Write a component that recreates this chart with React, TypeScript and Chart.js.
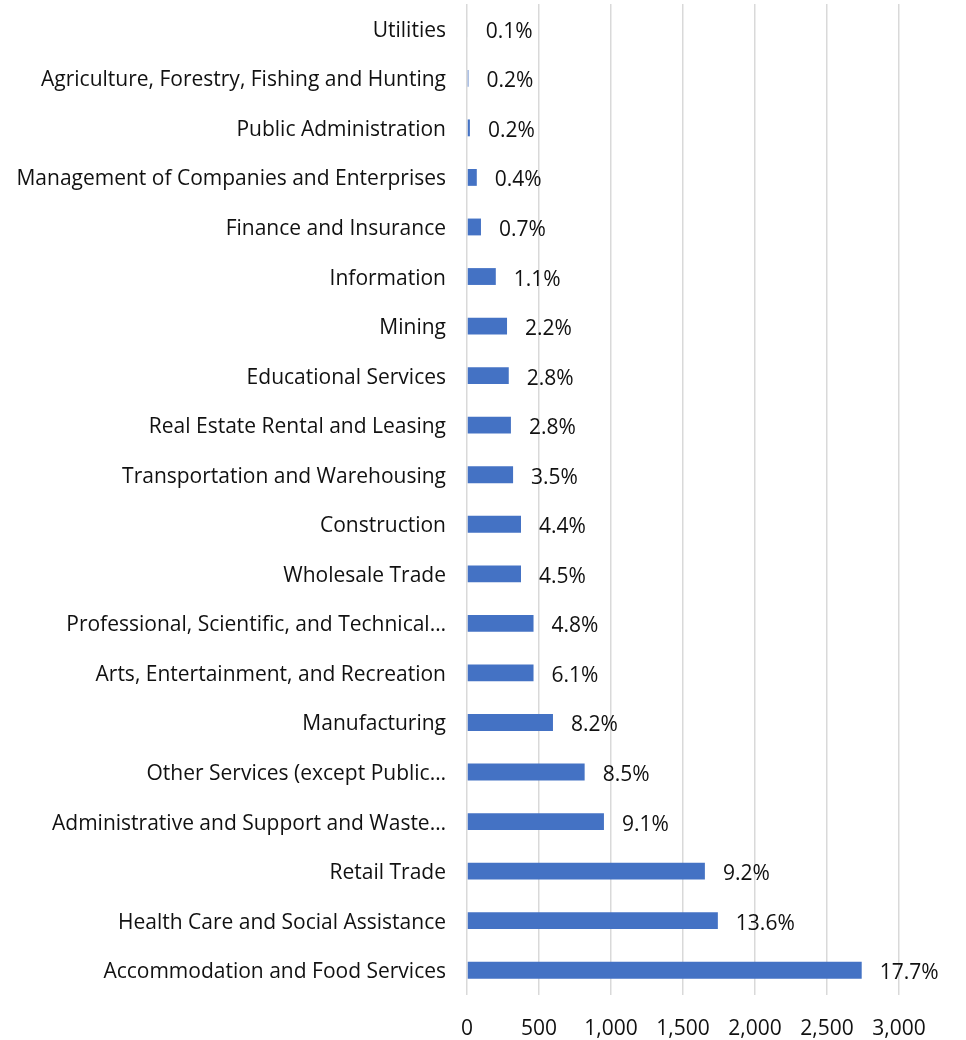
import React, { useEffect, useRef } from "react";
import { Chart, registerables } from "chart.js";

Chart.register(...registerables);

const categories = [
  "Utilities",
  "Agriculture, Forestry, Fishing and Hunting",
  "Public Administration",
  "Management of Companies and Enterprises",
  "Finance and Insurance",
  "Information",
  "Mining",
  "Educational Services",
  "Real Estate Rental and Leasing",
  "Transportation and Warehousing",
  "Construction",
  "Wholesale Trade",
  "Professional, Scientific, and Technical…",
  "Arts, Entertainment, and Recreation",
  "Manufacturing",
  "Other Services (except Public…",
  "Administrative and Support and Waste…",
  "Retail Trade",
  "Health Care and Social Assistance",
  "Accommodation and Food Services",
];

const values = [
  5, 10, 20, 68, 97, 200, 278, 290, 305, 320, 375, 375, 462, 462, 597, 817, 951, 1652, 1742, 2741,
];

const percentLabels = [
  "0.1%", "0.2%", "0.2%", "0.4%", "0.7%", "1.1%", "2.2%", "2.8%", "2.8%", "3.5%",
  "4.4%", "4.5%", "4.8%", "6.1%", "8.2%", "8.5%", "9.1%", "9.2%", "13.6%", "17.7%",
];

const xTicks = [0, 500, 1000, 1500, 2000, 2500, 3000];

const FONT = "'Open Sans', 'DejaVu Sans', sans-serif";
const FONT_SIZE = 21;

const barLabelPlugin = {
  id: "barLabels",
  afterDatasetsDraw(chart: any) {
    const ctx = chart.ctx;
    const meta = chart.getDatasetMeta(0);
    ctx.save();
    ctx.font = `${FONT_SIZE}px ${FONT}`;
    ctx.fillStyle = "#111111";
    ctx.textAlign = "left";
    ctx.textBaseline = "middle";
    meta.data.forEach((bar: any, i: number) => {
      ctx.fillText(percentLabels[i], bar.x + 18, bar.y + 3);
    });
    ctx.restore();
  },
};

export default function App() {
  const ref = useRef<HTMLCanvasElement>(null);
  useEffect(() => {
    if (!ref.current) return;
    const chart = new Chart(ref.current, {
      type: "bar",
      data: {
        labels: categories,
        datasets: [
          {
            data: values,
            backgroundColor: "#4472C4",
            borderWidth: 0,
            barPercentage: 0.34,
            categoryPercentage: 1,
          },
        ],
      },
      options: {
        indexAxis: "y",
        animation: false,
        responsive: false,
        maintainAspectRatio: false,
        layout: { padding: { top: 4, right: 67, bottom: 0, left: 0 } },
        plugins: {
          legend: { display: false },
          tooltip: { enabled: false },
        },
        scales: {
          x: {
            min: 0,
            max: 3000,
            afterBuildTicks(scale: any) {
              scale.ticks = xTicks.map((v) => ({ value: v }));
            },
            afterFit(scale: any) {
              scale.height = 45;
              scale.paddingTop = 0;
              scale.paddingBottom = 0;
            },
            grid: { color: "#D9D9D9", lineWidth: 1.5, drawTicks: false },
            border: { display: false },
            ticks: {
              padding: 21,
              color: "#111111",
              font: { family: FONT, size: FONT_SIZE },
              callback: (v: any) => Number(v).toLocaleString("en-US"),
            },
          },
          y: {
            grid: { display: false, drawTicks: false },
            border: { display: false },
            afterFit(scale: any) {
              scale.width = 467;
              scale.paddingTop = 0;
              scale.paddingBottom = 0;
            },
            ticks: {
              padding: 21,
              labelOffset: 2,
              color: "#111111",
              autoSkip: false,
              font: { family: FONT, size: FONT_SIZE },
            },
          },
        },
      },
      plugins: [barLabelPlugin],
    });
    return () => chart.destroy();
  }, []);
  return (
    <div style={{ position: "absolute", left: 0, top: 0, width: 966, height: 1040 }}>
      <canvas ref={ref} width={966} height={1040} style={{ width: 966, height: 1040 }} />
    </div>
  );
}
